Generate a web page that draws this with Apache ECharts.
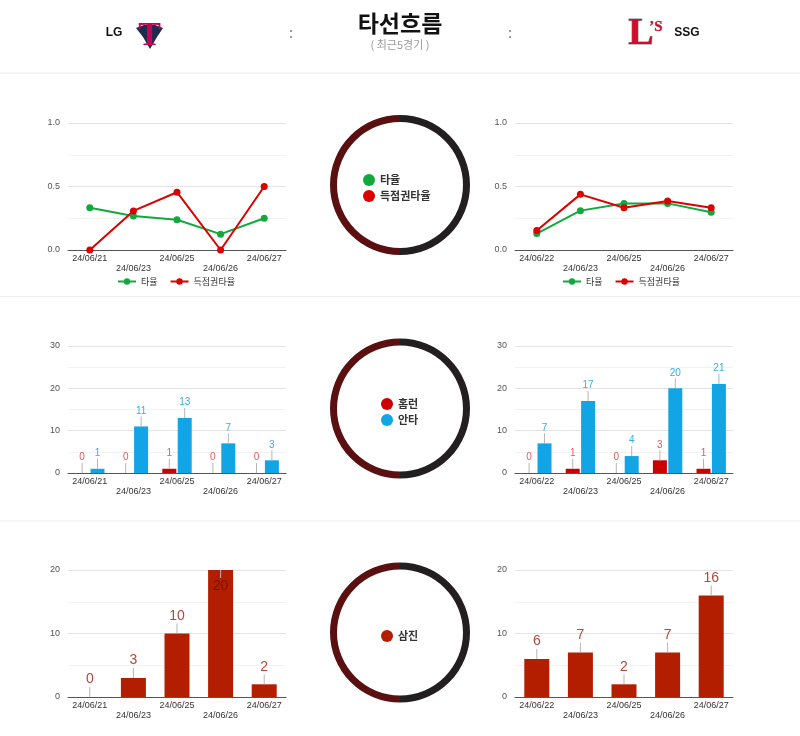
<!DOCTYPE html>
<html>
<head>
<meta charset="utf-8">
<script src="https://cdn.jsdelivr.net/npm/echarts@6/dist/echarts.min.js"></script>
<style>
html, body { margin: 0; padding: 0; background: #fff; }
#main { width: 800px; height: 736px; }
</style>
</head>
<body>
<div id="main"></div>
<script>
var FONT = '"Liberation Sans", Arial, "Noto Sans CJK KR", sans-serif';

// dates per team
var lgDates = ['24/06/21', '24/06/23', '24/06/25', '24/06/26', '24/06/27'];
var ssgDates = ['24/06/22', '24/06/23', '24/06/25', '24/06/26', '24/06/27'];

// batting average / avg with runners in scoring position
var lgAvg = [0.333, 0.267, 0.238, 0.125, 0.25];
var lgRisp = [0, 0.308, 0.455, 0, 0.5];
var ssgAvg = [0.129, 0.31, 0.367, 0.367, 0.297];
var ssgRisp = [0.154, 0.438, 0.333, 0.385, 0.333];

// home runs / hits
var lgHr = [0, 0, 1, 0, 0];
var lgHits = [1, 11, 13, 7, 3];
var ssgHr = [0, 1, 0, 3, 1];
var ssgHits = [7, 17, 4, 20, 21];

// strikeouts
var lgSo = [0, 3, 10, 20, 2];
var ssgSo = [6, 7, 2, 7, 16];

// tick labels
var rateTicks = [0, 0.5, 1.0];
var hitTicks = [0, 10, 20, 30];
var soTicks = [0, 10, 20];

var GREEN = '#13a83e', RED = '#dd0000', BLUE = '#12a5e6', HR = '#cc0000', SO = '#b41e00';

var myChart = echarts.init(document.getElementById('main'));

var grids = [];
var tops = [123, 123, 346, 346, 570, 570];
for (var i = 0; i < 6; i++) {
	grids.push({left: i % 2 ? 515 : 68, top: tops[i], width: 218, height: 127});
}

function xAxis(idx, dates) {
	return {
		type: 'category', gridIndex: idx, data: dates,
		axisLine: {lineStyle: {color: '#555', width: 1}},
		axisTick: {show: false},
		axisLabel: {
			interval: 0, margin: 4, fontSize: 9, lineHeight: 10, color: '#333', fontFamily: FONT,
			formatter: function (v, i) { return i % 2 ? '\n' + v : v; }
		}
	};
}

function yAxis(idx, ticks, fmt) {
	return {
		type: 'value', gridIndex: idx,
		min: ticks[0], max: ticks[ticks.length - 1], interval: ticks[1] - ticks[0],
		axisLine: {show: false}, axisTick: {show: false},
		axisLabel: {fontSize: 9, color: '#555', margin: 8, fontFamily: FONT, formatter: fmt},
		splitLine: {lineStyle: {color: '#e3e3e3'}},
		minorTick: {show: false, splitNumber: 2},
		minorSplitLine: {show: true, lineStyle: {color: '#f2f2f2'}}
	};
}

function rateFmt(v) { return v.toFixed(1); }

function lineSeries(name, data, color, idx) {
	return {
		name: name, type: 'line', data: data, xAxisIndex: idx, yAxisIndex: idx,
		color: color, symbol: 'circle', symbolSize: 7,
		lineStyle: {width: 2, color: color}, itemStyle: {color: color},
		silent: true
	};
}

function stemLabel(color, size, stem) {
	return {
		show: true, position: 'top', distance: 0,
		formatter: function (p) { return '{v|' + p.value + '}\n{s| }'; },
		rich: {
			v: {color: color, fontSize: size, lineHeight: size + 1, fontFamily: FONT},
			s: {width: 1, height: stem, lineHeight: stem, backgroundColor: '#b5b5b5'}
		}
	};
}

function barSeries(name, data, color, idx, labelColor, size, width, max) {
	var items = data.map(function (v) {
		if (v < max) return v;
		// no room above the axis top: the label goes inside the bar
		return {
			value: v,
			label: {
				position: 'insideTop', distance: 0,
				formatter: function (p) { return '{s| }\n{v|' + p.value + '}'; },
				rich: {
					v: {color: '#7a1200', fontSize: size, lineHeight: size + 3, fontFamily: FONT},
					s: {width: 1, height: 8, lineHeight: 8, backgroundColor: '#b5b5b5'}
				}
			}
		};
	});
	return {
		name: name, type: 'bar', data: items, xAxisIndex: idx, yAxisIndex: idx,
		color: color, barWidth: width, barGap: '10%', silent: true,
		itemStyle: {color: color},
		label: stemLabel(labelColor, size, 10)
	};
}

function ring(cy) {
	return {
		type: 'pie', center: [400, cy], radius: [63, 70], startAngle: 90,
		silent: true, label: {show: false}, labelLine: {show: false},
		data: [
			{value: 1, name: 'r', itemStyle: {color: '#231f20'}},
			{value: 1, name: 'l', itemStyle: {color: '#5a0f10'}}
		]
	};
}

function ringLegend(names, left, top) {
	return {
		data: names, orient: 'vertical', left: left, top: top, icon: 'circle', padding: 0,
		itemWidth: 12, itemHeight: 12, itemGap: 4, selectedMode: false,
		textStyle: {fontSize: 11, color: '#333', fontWeight: 'bold', fontFamily: '"Noto Sans CJK KR", sans-serif'}
	};
}

function lineLegend(left) {
	return {
		data: ['타율', '득점권타율'], left: left, top: 277, itemWidth: 18, itemHeight: 8, padding: 0,
		itemGap: 12, selectedMode: false,
		textStyle: {fontSize: 9, color: '#333', fontFamily: '"Noto Sans CJK KR", sans-serif'}
	};
}

var option = {
	animation: false,
	textStyle: {fontFamily: FONT},
	grid: grids,
	xAxis: [xAxis(0, lgDates), xAxis(1, ssgDates), xAxis(2, lgDates), xAxis(3, ssgDates), xAxis(4, lgDates), xAxis(5, ssgDates)],
	yAxis: [
		yAxis(0, rateTicks, rateFmt), yAxis(1, rateTicks, rateFmt),
		yAxis(2, hitTicks), yAxis(3, hitTicks),
		yAxis(4, soTicks), yAxis(5, soTicks)
	],
	legend: [
		lineLegend(117), lineLegend(562),
		ringLegend(['타율', '득점권타율'], 363, 174),
		ringLegend(['홈런', '안타'], 381, 398),
		ringLegend(['삼진'], 381, 630)
	],
	series: [
		lineSeries('타율', lgAvg, GREEN, 0),
		lineSeries('득점권타율', lgRisp, RED, 0),
		lineSeries('타율', ssgAvg, GREEN, 1),
		lineSeries('득점권타율', ssgRisp, RED, 1),
		barSeries('홈런', lgHr, HR, 2, '#e25b5b', 10, 14, 99),
		barSeries('안타', lgHits, BLUE, 2, '#35aee6', 10, 14, 99),
		barSeries('홈런', ssgHr, HR, 3, '#e25b5b', 10, 14, 99),
		barSeries('안타', ssgHits, BLUE, 3, '#35aee6', 10, 14, 99),
		barSeries('삼진', lgSo, SO, 4, '#b0493c', 14, 25, soTicks[soTicks.length - 1]),
		barSeries('삼진', ssgSo, SO, 5, '#b0493c', 14, 25, soTicks[soTicks.length - 1]),
		ring(185), ring(408.5), ring(632.5)
	],
	graphic: [
		// separators
		{type: 'rect', shape: {x: 0, y: 72.5, width: 800, height: 1}, style: {fill: '#ececec'}, silent: true},
		{type: 'rect', shape: {x: 0, y: 296, width: 800, height: 1}, style: {fill: '#f0f0f0'}, silent: true},
		{type: 'rect', shape: {x: 0, y: 520.5, width: 800, height: 1}, style: {fill: '#f0f0f0'}, silent: true},
		// header
		{type: 'text', x: 400, y: 23, style: {text: '타선흐름', fill: '#111', font: 'bold 23px "Noto Sans CJK KR"', textAlign: 'center', textVerticalAlign: 'middle'}},
		{type: 'text', x: 400, y: 45, style: {text: '( 최근5경기 )', fill: '#999', font: '11px "Noto Sans CJK KR"', textAlign: 'center', textVerticalAlign: 'middle'}},
		{type: 'text', x: 291, y: 34, style: {text: ':', fill: '#999', font: 'bold 14px "Liberation Sans"', textAlign: 'center', textVerticalAlign: 'middle'}},
		{type: 'text', x: 510, y: 34, style: {text: ':', fill: '#999', font: 'bold 14px "Liberation Sans"', textAlign: 'center', textVerticalAlign: 'middle'}},
		{type: 'text', x: 114, y: 33, style: {text: 'LG', fill: '#111', font: 'bold 12px "Liberation Sans"', textAlign: 'center', textVerticalAlign: 'middle'}},
		{type: 'text', x: 687, y: 33, style: {text: 'SSG', fill: '#111', font: 'bold 12px "Liberation Sans"', textAlign: 'center', textVerticalAlign: 'middle'}},
		// LG logo
		{type: 'polygon', shape: {points: [[136, 28], [144, 25], [155, 25], [163, 28], [157, 37], [150, 49], [143, 37]]}, style: {fill: '#1d2b4f'}},
		{type: 'text', x: 149.5, y: 36, style: {text: 'T', fill: '#c30452', font: 'bold 34px "Liberation Serif"', textAlign: 'center', textVerticalAlign: 'middle'}},
		// SSG logo
		{type: 'text', x: 641, y: 34, style: {text: 'L', fill: '#ce0e2d', stroke: '#8a8a8a', lineWidth: 1, font: 'bold 38px "Liberation Serif"', textAlign: 'center', textVerticalAlign: 'middle'}},
		{type: 'text', x: 656, y: 27, style: {text: '\u2019S', fill: '#ce0e2d', stroke: '#8a8a8a', lineWidth: 0.5, font: 'bold 15px "Liberation Serif"', textAlign: 'center', textVerticalAlign: 'middle'}}
	]
};

myChart.setOption(option);
</script>
</body>
</html>
